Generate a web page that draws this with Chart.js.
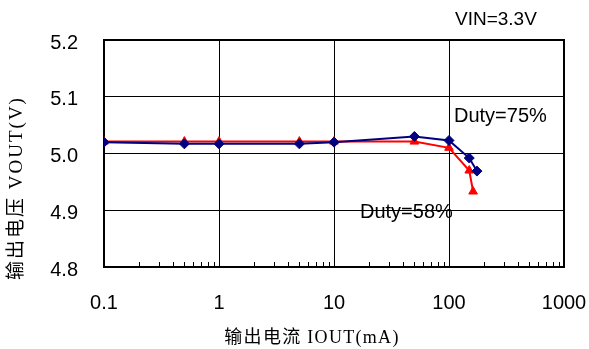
<!DOCTYPE html>
<html>
<head>
<meta charset="utf-8">
<script src="https://cdn.jsdelivr.net/npm/chart.js@4/dist/chart.umd.min.js"></script>
<style>
  html, body { margin: 0; padding: 0; background: #fff; }
  #wrap { width: 589px; height: 349px; position: relative; }
</style>
</head>
<body>
<div id="wrap"><canvas id="c" width="589" height="349"></canvas></div>
<script>
// Output current (mA) and output voltage (V) for each duty cycle
const duty75Current = [0.1, 0.5, 1, 5, 10, 50, 100, 150, 175];
const duty75Voltage = [5.020, 5.017, 5.017, 5.017, 5.020, 5.030, 5.023, 4.992, 4.969];

const duty58Current = [0.1, 0.5, 1, 5, 10, 50, 100, 150, 162];
const duty58Voltage = [5.021, 5.021, 5.021, 5.021, 5.021, 5.021, 5.010, 4.970, 4.933];

const xTickValues = [0.1, 1, 10, 100, 1000];
const xTickLabels = ['0.1', '1', '10', '100', '1000'];
const yTickLabels = ['4.8', '4.9', '5.0', '5.1', '5.2'];

const sansFont = "'Liberation Sans', Arial, sans-serif";
const titleFont = "'Liberation Serif', 'Noto Sans CJK SC', serif";

const toPoints = (xs, ys) => xs.map((x, i) => ({ x: x, y: ys[i] }));

// Frame, minor log ticks, axis titles and text labels
const decorations = {
  id: 'decorations',
  beforeDatasetsDraw(chart) {
    const { ctx, chartArea: a, scales: { x } } = chart;
    ctx.save();
    ctx.strokeStyle = '#000';
    // minor ticks along the bottom edge, pointing inward
    ctx.lineWidth = 1;
    ctx.beginPath();
    for (let d = 0; d < xTickValues.length - 1; d++) {
      for (let m = 2; m <= 9; m++) {
        const px = Math.round(x.getPixelForValue(xTickValues[d] * m)) + 0.5;
        ctx.moveTo(px, a.bottom);
        ctx.lineTo(px, a.bottom - 5);
      }
    }
    ctx.stroke();
    // outer frame
    ctx.lineWidth = 2;
    ctx.strokeRect(a.left, a.top, a.right - a.left, a.bottom - a.top);
    ctx.restore();
  },
  afterDraw(chart) {
    const { ctx } = chart;
    ctx.save();
    ctx.fillStyle = '#000';
    ctx.textBaseline = 'middle';

    ctx.font = '19px ' + sansFont;
    ctx.textAlign = 'left';
    ctx.fillText('VIN=3.3V', 455, 20);
    ctx.font = '20px ' + sansFont;
    ctx.fillText('Duty=75%', 454, 116);
    ctx.fillText('Duty=58%', 360, 212);

    // axis titles
    ctx.font = '18px ' + titleFont;
    ctx.textAlign = 'center';
    ctx.letterSpacing = '1.3px';
    ctx.fillText('输出电流 IOUT(mA)', 312, 338);

    ctx.save();
    ctx.translate(17, 188);
    ctx.rotate(-Math.PI / 2);
    ctx.font = '19px ' + titleFont;
    ctx.letterSpacing = '2px';
    ctx.fillText('输出电压 VOUT(V)', 0, 0);
    ctx.restore();

    ctx.restore();
  }
};

new Chart(document.getElementById('c'), {
  type: 'line',
  data: {
    datasets: [
      {
        label: 'Duty=75%',
        data: toPoints(duty75Current, duty75Voltage),
        borderColor: '#000080',
        backgroundColor: '#000080',
        borderWidth: 2,
        pointStyle: 'rectRot',
        pointRadius: 5,
        pointBorderWidth: 1,
        tension: 0
      },
      {
        label: 'Duty=58%',
        data: toPoints(duty58Current, duty58Voltage),
        borderColor: '#ff0000',
        backgroundColor: '#ff0000',
        borderWidth: 2,
        pointStyle: 'triangle',
        pointRadius: 5,
        pointBorderWidth: 1,
        tension: 0
      }
    ]
  },
  options: {
    responsive: false,
    animation: false,
    devicePixelRatio: 1,
    layout: { padding: { top: 40, right: 25, bottom: 0, left: 0 } },
    plugins: {
      legend: { display: false },
      tooltip: { enabled: false }
    },
    scales: {
      x: {
        type: 'logarithmic',
        min: 0.1,
        max: 1000,
        afterBuildTicks(scale) {
          scale.ticks = xTickValues.map(v => ({ value: v }));
        },
        afterFit(scale) {
          scale.height = 82;
          scale.paddingLeft = 0;
          scale.paddingRight = 0;
        },
        grid: { color: '#000', lineWidth: 1, drawTicks: false },
        border: { display: false },
        ticks: {
          autoSkip: false,
          maxRotation: 0,
          padding: 24,
          color: '#000',
          font: { family: sansFont, size: 20 },
          callback(value) {
            const i = xTickValues.indexOf(value);
            return i >= 0 ? xTickLabels[i] : '';
          }
        }
      },
      y: {
        min: 4.8,
        max: 5.2,
        afterFit(scale) {
          scale.width = 104;
          scale.paddingTop = 0;
          scale.paddingBottom = 0;
        },
        grid: { color: '#000', lineWidth: 1, drawTicks: false },
        border: { display: false },
        ticks: {
          stepSize: 0.1,
          padding: 26,
          labelOffset: 3,
          color: '#000',
          font: { family: sansFont, size: 20 },
          callback(value) {
            const i = Math.round((value - 4.8) * 10);
            return yTickLabels[i] !== undefined ? yTickLabels[i] : '';
          }
        }
      }
    }
  },
  plugins: [decorations]
});
</script>
</body>
</html>
